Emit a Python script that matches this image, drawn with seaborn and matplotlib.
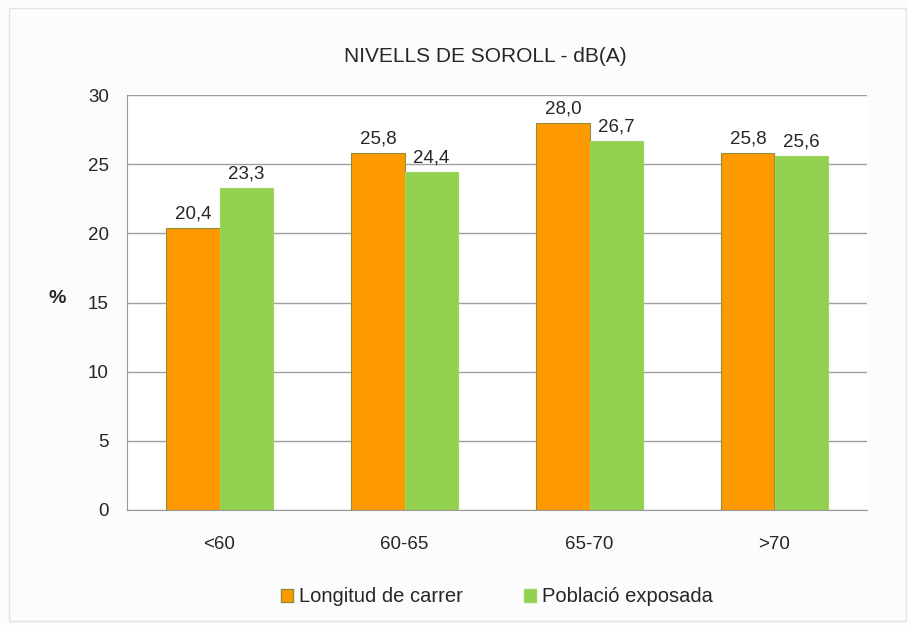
import matplotlib
matplotlib.use('Agg')
import matplotlib.pyplot as plt
from matplotlib.patches import Rectangle
import pandas as pd
import seaborn as sns

categories = ['<60', '60-65', '65-70', '>70']
series_names = ['Longitud de carrer', 'Població exposada']
longitud = [20.4, 25.8, 28.0, 25.8]
poblacio = [23.3, 24.4, 26.7, 25.6]
colors = ['#FF9900', '#92D050']
edges = ['#8F8F3A', '#9FD462']

df = pd.DataFrame({
    'cat': categories * 2,
    'serie': [series_names[0]] * 4 + [series_names[1]] * 4,
    'val': longitud + poblacio,
})

sns.set_style('white')
plt.rcParams['font.family'] = ['Liberation Sans', 'DejaVu Sans']

fig = plt.figure(figsize=(9.07, 6.25), dpi=100, facecolor='#FCFCFC')
fig.patches.append(Rectangle((9 / 907, 4 / 625), 897 / 907, 613 / 625, transform=fig.transFigure,
                             fill=False, edgecolor='#E3E3E3', lw=1))
ax = fig.add_axes([127 / 907, 1 - 510 / 625, 740 / 907, 415 / 625])
ax.set_facecolor('white')

sns.barplot(data=df, x='cat', y='val', hue='serie', palette=colors, width=0.575,
            saturation=1, ax=ax, legend=True)

for cont, ec in zip(ax.containers, edges):
    for p in cont:
        p.set_edgecolor(ec)
        p.set_linewidth(0.8)
    ax.bar_label(cont, labels=[f'{v:.1f}'.replace('.', ',') for v in cont.datavalues],
                 padding=4, fontsize=13.5)

ax.set_ylim(0, 30)
ax.set_yticks(range(0, 31, 5))
ax.yaxis.grid(True, color='#A0A0A0', lw=1)
ax.set_axisbelow(True)
for s in ['top', 'right']:
    ax.spines[s].set_visible(False)
ax.spines['left'].set_color('#999999')
ax.spines['bottom'].set_color('#999999')
ax.tick_params(axis='both', labelsize=13.5, length=0)
ax.tick_params(axis='y', pad=13)
ax.tick_params(axis='x', pad=19)
ax.set_xlabel('')
ax.set_ylabel('%', rotation=0, fontsize=14, fontweight='bold')
ax.yaxis.set_label_coords(-0.095, 0.49)
ax.set_title('NIVELLS DE SOROLL - dB(A)', fontsize=15, pad=24, x=0.484)

leg = ax.legend(loc='upper center', bbox_to_anchor=(0.5, -0.143), ncol=2, frameon=False,
                fontsize=14.5, handlelength=0.6, handleheight=0.6, handletextpad=0.3,
                columnspacing=3.0)
for h, ec in zip(leg.legend_handles, edges):
    h.set_edgecolor(ec)

fig.savefig('out.png', dpi=100, facecolor=fig.get_facecolor())
